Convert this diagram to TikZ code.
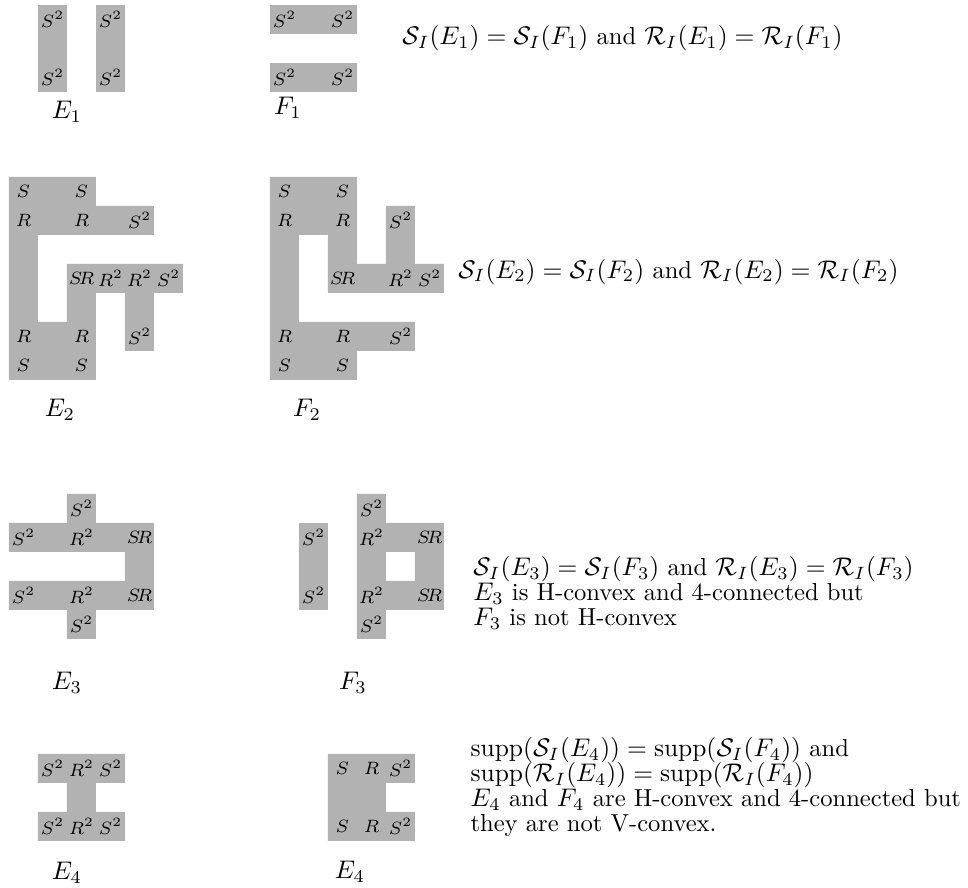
\documentclass[tikz,border=0pt]{standalone}
\usepackage{amsmath}
\usepackage{amssymb}
\usetikzlibrary{positioning}

\begin{document}
\begin{tikzpicture}[
		x=0.4cm, y=-0.4cm,
		% Define styles for the regions and their texts
		region/.style={fill=black!30, draw=none},
		celltext/.style={font=\scriptsize, inner sep=0pt},
		setname/.style={inner sep=0pt},
		relation/.style={anchor=base west, inner sep=0pt, font=\fontsize{9.65pt}{11pt}\selectfont}
		]
		\useasboundingbox (0,0) rectangle (33.38,30.62);
		
		% First pair: E_1 and F_1
		\begin{scope}[shift={(0.31,0.17)}]
			\fill[region] (1,0) rectangle (2,3);
			\fill[region] (3,0) rectangle (4,3);
			\node[celltext] (e1a) at (1.5,0.5) {$S^2$};
			\node[celltext] (e1b) at (1.5,2.5) {$S^2$};
			\node[celltext] (e1c) at (3.5,0.5) {$S^2$};
			\node[celltext] (e1d) at (3.5,2.5) {$S^2$};
			\node[setname] (nameE1) at (2.0,3.69) {$E_1$};
		\end{scope}
		\begin{scope}[shift={(9.31,0.17)}]
			\fill[region] (0,0) rectangle (3,1);
			\fill[region] (0,2) rectangle (3,3);
			\node[celltext] (f1a) at (0.5,0.5) {$S^2$};
			\node[celltext] (f1b) at (2.5,0.5) {$S^2$};
			\node[celltext] (f1c) at (0.5,2.5) {$S^2$};
			\node[celltext] (f1d) at (2.5,2.5) {$S^2$};
			\node[setname] (nameF1) at (0.62,3.55) {$F_1$};
		\end{scope}
		\node[relation] (rel1) at (13.86,1.55) {$\mathcal{S}_I(E_1) = \mathcal{S}_I(F_1)$ and $\mathcal{R}_I(E_1) = \mathcal{R}_I(F_1)$};
		
		% Second pair: E_2 and F_2
		\begin{scope}[shift={(0.31,6.10)}]
			\fill[region] (0,0) -- (3,0) -- (3,1) -- (5,1) -- (5,2) -- (1,2) -- (1,5) -- (2,5) -- (2,3) -- (6,3)
			-- (6,4) -- (5,4) -- (5,6) -- (4,6) -- (4,4) -- (3,4) -- (3,7) -- (0,7) -- cycle;
			\node[celltext] (e2a) at (0.5,0.5) {$S$};
			\node[celltext] (e2b) at (2.5,0.5) {$S$};
			\node[celltext] (e2c) at (0.5,1.5) {$R$};
			\node[celltext] (e2d) at (2.5,1.5) {$R$};
			\node[celltext] (e2e) at (4.5,1.5) {$S^2$};
			\node[celltext] (e2f) at (2.5,3.5) {$S\!R$};
			\node[celltext] (e2g) at (3.5,3.5) {$R^2$};
			\node[celltext] (e2h) at (4.5,3.5) {$R^2$};
			\node[celltext] (e2i) at (5.5,3.5) {$S^2$};
			\node[celltext] (e2j) at (0.5,5.5) {$R$};
			\node[celltext] (e2k) at (2.5,5.5) {$R$};
			\node[celltext] (e2l) at (4.5,5.5) {$S^2$};
			\node[celltext] (e2m) at (0.5,6.5) {$S$};
			\node[celltext] (e2n) at (2.5,6.5) {$S$};
			\node[setname] (nameE2) at (1.76,8.03) {$E_2$};
		\end{scope}
		\begin{scope}[shift={(9.31,6.10)}]
			\fill[region] (0,0) -- (3,0) -- (3,3) -- (4,3) -- (4,1) -- (5,1) -- (5,3) -- (6,3) -- (6,4) -- (2,4)
			-- (2,2) -- (1,2) -- (1,5) -- (5,5) -- (5,6) -- (3,6) -- (3,7) -- (0,7) -- cycle;
			\node[celltext] (f2a) at (0.5,0.5) {$S$};
			\node[celltext] (f2b) at (2.5,0.5) {$S$};
			\node[celltext] (f2c) at (0.5,1.5) {$R$};
			\node[celltext] (f2d) at (2.5,1.5) {$R$};
			\node[celltext] (f2e) at (4.5,1.5) {$S^2$};
			\node[celltext] (f2f) at (2.5,3.5) {$S\!R$};
			\node[celltext] (f2g) at (4.5,3.5) {$R^2$};
			\node[celltext] (f2h) at (5.5,3.5) {$S^2$};
			\node[celltext] (f2i) at (0.5,5.5) {$R$};
			\node[celltext] (f2j) at (2.5,5.5) {$R$};
			\node[celltext] (f2k) at (4.5,5.5) {$S^2$};
			\node[celltext] (f2l) at (0.5,6.5) {$S$};
			\node[celltext] (f2m) at (2.5,6.5) {$S$};
			\node[setname] (nameF2) at (1.28,8.03) {$F_2$};
		\end{scope}
		\node[relation] (rel2) at (15.79,9.59) {$\mathcal{S}_I(E_2) = \mathcal{S}_I(F_2)$ and $\mathcal{R}_I(E_2) = \mathcal{R}_I(F_2)$};
		
		% Third pair: E_3 and F_3
		\begin{scope}[shift={(0.31,17.03)}]
			\fill[region] (2,0) -- (3,0) -- (3,1) -- (5,1) -- (5,4) -- (3,4) -- (3,5) -- (2,5) -- (2,4) -- (0,4)
			-- (0,3) -- (4,3) -- (4,2) -- (0,2) -- (0,1) -- (2,1) -- cycle;
			\node[celltext] (e3a) at (2.5,0.5) {$S^2$};
			\node[celltext] (e3b) at (0.5,1.5) {$S^2$};
			\node[celltext] (e3c) at (2.5,1.5) {$R^2$};
			\node[celltext] (e3d) at (4.5,1.5) {$S\!R$};
			\node[celltext] (e3e) at (0.5,3.5) {$S^2$};
			\node[celltext] (e3f) at (2.5,3.5) {$R^2$};
			\node[celltext] (e3g) at (4.5,3.5) {$S\!R$};
			\node[celltext] (e3h) at (2.5,4.5) {$S^2$};
			\node[setname] (nameE3) at (2.0,6.52) {$E_3$};
		\end{scope}
		\begin{scope}[shift={(9.31,17.03)}]
			\fill[region] (1,1) rectangle (2,4);
			\fill[region, even odd rule] (3,0) -- (4,0) -- (4,1) -- (6,1) -- (6,4) -- (4,4) -- (4,5) -- (3,5) -- cycle
			(4,2) rectangle (5,3);
			\node[celltext] (f3a) at (1.5,1.5) {$S^2$};
			\node[celltext] (f3b) at (1.5,3.5) {$S^2$};
			\node[celltext] (f3c) at (3.5,0.5) {$S^2$};
			\node[celltext] (f3d) at (3.5,1.5) {$R^2$};
			\node[celltext] (f3e) at (5.5,1.5) {$S\!R$};
			\node[celltext] (f3f) at (3.5,3.5) {$R^2$};
			\node[celltext] (f3g) at (5.5,3.5) {$S\!R$};
			\node[celltext] (f3h) at (3.5,4.5) {$S^2$};
			\node[setname] (nameF3) at (2.86,6.52) {$F_3$};
		\end{scope}
		\node[relation] (rel3a) at (16.31,19.86) {$\mathcal{S}_I(E_3) = \mathcal{S}_I(F_3)$ and $\mathcal{R}_I(E_3) = \mathcal{R}_I(F_3)$};
		\node[relation] (rel3b) at ([yshift=-9.8pt]rel3a.base west) {$E_3$ is H-convex and 4-connected but};
		\node[relation] (rel3c) at ([yshift=-9.8pt]rel3b.base west) {$F_3$ is not H-convex};
		
		% Fourth pair: E_4 and its partner
		\begin{scope}[shift={(0.31,26.0)}]
			\fill[region] (1,0) -- (4,0) -- (4,1) -- (3,1) -- (3,2) -- (4,2) -- (4,3) -- (1,3) -- (1,2) -- (2,2)
			-- (2,1) -- (1,1) -- cycle;
			\node[celltext] (e4a) at (1.5,0.5) {$S^2$};
			\node[celltext] (e4b) at (2.5,0.5) {$R^2$};
			\node[celltext] (e4c) at (3.5,0.5) {$S^2$};
			\node[celltext] (e4d) at (1.5,2.5) {$S^2$};
			\node[celltext] (e4e) at (2.5,2.5) {$R^2$};
			\node[celltext] (e4f) at (3.5,2.5) {$S^2$};
			\node[setname] (nameE4) at (2.0,4.10) {$E_4$};
		\end{scope}
		\begin{scope}[shift={(9.31,26.0)}]
			\fill[region] (2,0) -- (5,0) -- (5,1) -- (4,1) -- (4,2) -- (5,2) -- (5,3) -- (2,3) -- cycle;
			\node[celltext] (f4a) at (2.5,0.5) {$S$};
			\node[celltext] (f4b) at (3.5,0.5) {$R$};
			\node[celltext] (f4c) at (4.5,0.5) {$S^2$};
			\node[celltext] (f4d) at (2.5,2.5) {$S$};
			\node[celltext] (f4e) at (3.5,2.5) {$R$};
			\node[celltext] (f4f) at (4.5,2.5) {$S^2$};
			\node[setname] (nameF4) at (2.76,4.07) {$E_4$};
		\end{scope}
		\node[relation] (rel4a) at (16.21,26.1) {$\mathrm{supp}(\mathcal{S}_I(E_4)) = \mathrm{supp}(\mathcal{S}_I(F_4))$ and};
		\node[relation] (rel4b) at ([yshift=-9.8pt]rel4a.base west) {$\mathrm{supp}(\mathcal{R}_I(E_4)) = \mathrm{supp}(\mathcal{R}_I(F_4))$};
		\node[relation] (rel4c) at ([yshift=-9.8pt]rel4b.base west) {$E_4$ and $F_4$ are H-convex and 4-connected but};
		\node[relation] (rel4d) at ([yshift=-9.8pt]rel4c.base west) {they are not V-convex.};
		
	\end{tikzpicture}
\end{document}
